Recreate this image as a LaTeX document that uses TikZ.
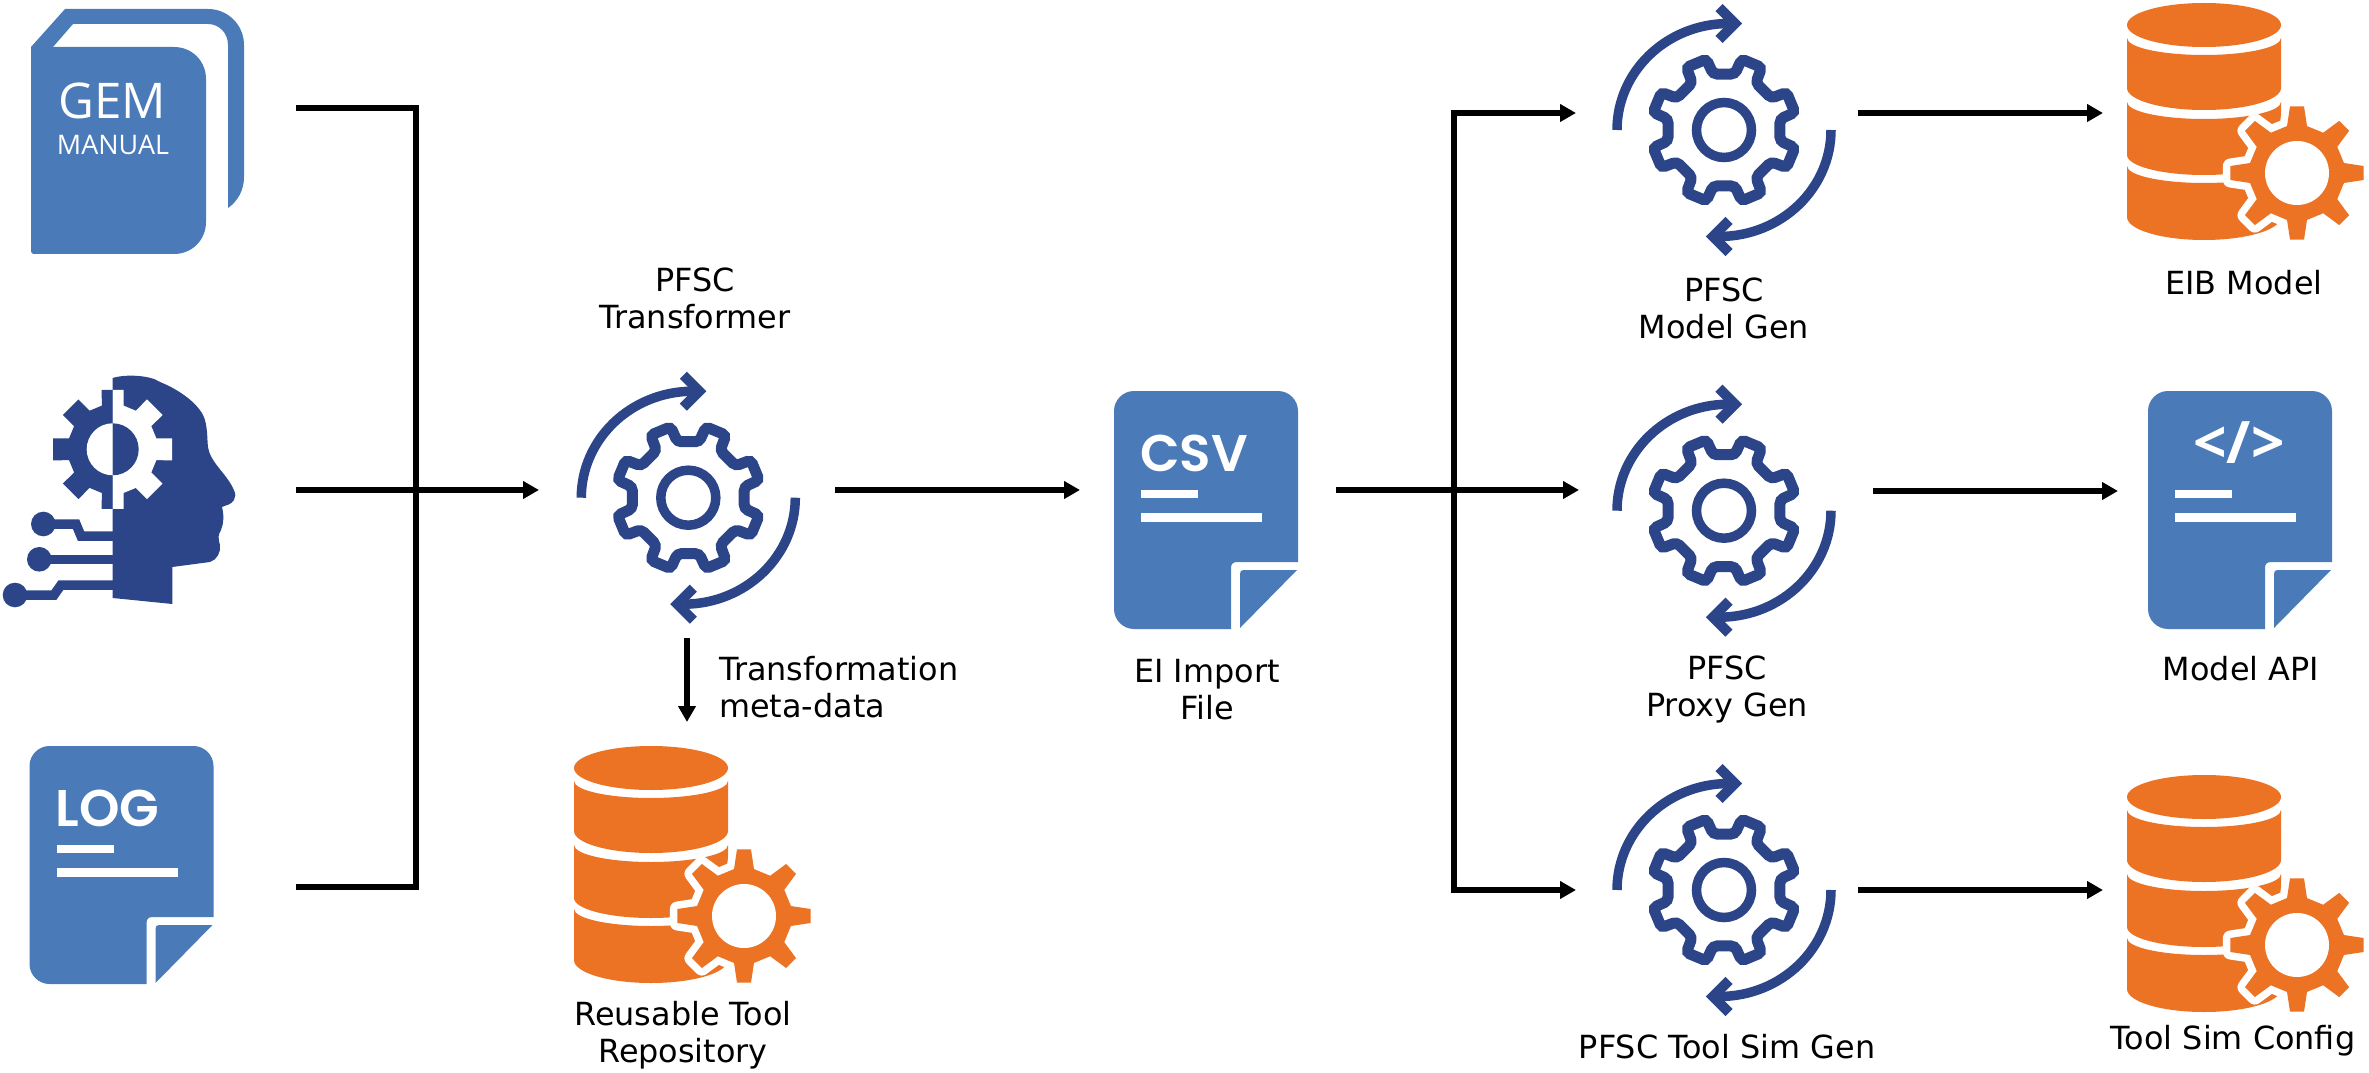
\documentclass[tikz,border=0pt]{standalone}
\usepackage{fontspec}
\setmainfont{DejaVu Sans}
\newfontfamily\bookfont{Open Sans}
\newfontfamily\docfont{Poppins}[BoldFont={Poppins SemiBold}]
\usetikzlibrary{arrows.meta,calc}
\definecolor{navy}{HTML}{2B4588}
\definecolor{docblue}{HTML}{4A7AB7}
\definecolor{dborange}{HTML}{EC7224}
\newcommand{\pxu}{0.03cm}
\tikzset{
  x=0.03cm,y=-0.03cm,
  link/.style={line width=5.5*\pxu,black},
  flow/.style={link,-{Triangle[length=16*\pxu,width=17*\pxu]}},
  anchorbox/.style 2 args={inner sep=0,outer sep=0,minimum width=#1*\pxu,minimum height=#2*\pxu},
  lab/.style={font=\fontsize{27.2}{31.6}\selectfont,align=center,inner sep=0,text=black},
  doctitle/.style={font=\fontsize{44}{44}\docfont\bfseries\selectfont,text=white,inner sep=0,anchor=base west},
}
% gear in a cycle of two arrows
\newcommand{\gearcycle}[2]{%
\begin{scope}[shift={(#1,#2)},draw=navy,line width=9.5*\pxu]
  \draw (0,0) circle[radius=27.5];
  \draw[line width=11*\pxu,rounded corners=4*\pxu]
    (0:55.9)
    \foreach \a in {22.5,67.5,...,337.5}{
      -- ({\a-11.5}:57) -- ({\a-8.5}:73) -- ({\a+8.5}:73) -- ({\a+11.5}:57)
    } -- cycle;
  \foreach \r in {0,180}{
    \begin{scope}[rotate=\r]
      \draw (-107,0) .. controls (-107,-58) and (-58,-106) .. (4,-106.5);
      \draw[line width=10*\pxu,miter limit=4] (-5,-122.5) -- (11,-106.5) -- (-5,-90.5);
    \end{scope}
  }
\end{scope}}
% database with cog
\newcommand{\dbband}[4]{%
  \fill[dborange] (-77,#1) .. controls (-77,{#1+.552*#2}) and (-42.5,{#1+#2}) .. (0,{#1+#2})
     .. controls (42.5,{#1+#2}) and (77,{#1+.552*#2}) .. (77,#1)
     -- (77,#3) .. controls (77,{#3+.552*#4}) and (42.5,{#3+#4}) .. (0,{#3+#4})
     .. controls (-42.5,{#3+#4}) and (-77,{#3+.552*#4}) .. (-77,#3) -- cycle;}
\newcommand{\cogpath}{%
  (-12:48) \foreach \a in {0,45,...,315}{
     -- ({\a-12}:48) -- ({\a-6}:67) -- ({\a+6}:67) -- ({\a+12}:48)
  } -- cycle}
\newcommand{\dbicon}[2]{%
\begin{scope}[shift={(#1,#2)}]
  \fill[dborange] (0,0) ellipse[x radius=77,y radius=22];
  \dbband{13}{17}{63}{22}
  \dbband{77}{17}{130}{20}
  \dbband{141}{17}{192}{23}
  \begin{scope}[shift={(93,148)}]
    \begin{scope}
      \clip (-75,-75) rectangle (0,75);
      \draw[white,line width=15*\pxu,fill=white,line join=round] \cogpath;
    \end{scope}
    \fill[dborange] \cogpath;
    \fill[white] (0,0) circle[radius=32];
  \end{scope}
\end{scope}}
% document with folded corner
\newcommand{\docicon}[2]{%
\begin{scope}[shift={(#1,#2)}]
  \fill[docblue] (20,0) -- (164,0) .. controls (175,0) and (184,9) .. (184,20)
    -- (184,171) -- (123,171) .. controls (119,171) and (117,173) .. (117,177)
    -- (117,238) -- (20,238) .. controls (9,238) and (0,229) .. (0,218)
    -- (0,20) .. controls (0,9) and (9,0) .. (20,0) -- cycle;
  \fill[docblue] (130,179) -- (183,179) -- (126,237) -- (126,183) .. controls (126,180) and (127,179) .. (130,179) -- cycle;
  \fill[white] (27,99) rectangle (84,107);
  \fill[white] (27,122) rectangle (148,131);
\end{scope}}
\begin{document}
\begin{tikzpicture}
\useasboundingbox (0,0) rectangle (2369,1073);

%---- book
\fill[docblue] (31,47) -- (65,9) -- (208,9) .. controls (228,9) and (244,25) .. (244,45)
  -- (244,177) .. controls (244,190) and (238,201) .. (228,208) -- (228,45)
  .. controls (228,33) and (219,24) .. (208,24) -- (73,24) -- (53,47) -- cycle;
\fill[docblue] (33,47) -- (174,47) .. controls (192,47) and (206,61) .. (206,79)
  -- (206,222) .. controls (206,240) and (192,254) .. (174,254)
  -- (33,254) -- (31,252) -- (31,47) -- cycle;
\node[font=\fontsize{42}{42}\bookfont\selectfont,text=white,inner sep=0,anchor=base] (gem) at (112.5,119) {GEM};
\node[font=\fontsize{23}{23}\bookfont\selectfont,text=white,inner sep=0,anchor=base] (manual) at (113,155) {MANUAL};

%---- head
\fill[navy] (112.7,378) .. controls (125,374) and (150,375) .. (160,382)
  .. controls (175,388) and (195,400) .. (203,415)
  .. controls (208,425) and (207,440) .. (208,447)
  .. controls (210,462) and (225,472) .. (233,488)
  .. controls (236,494) and (236,497) .. (234,500)
  .. controls (231,505) and (226,505) .. (222,507)
  .. controls (224,515) and (224,523) .. (221,530)
  .. controls (218,535) and (218,538) .. (220,545)
  .. controls (221,552) and (217,560) .. (210,562)
  -- (172.3,567) -- (172.3,604) -- (112.7,598) -- cycle;
\fill[navy] (43.3,524) circle[radius=12.3];
\fill[navy] (39.3,559.3) circle[radius=12.3];
\fill[navy] (15,595) circle[radius=12.3];
\draw[navy,line width=9.5*\pxu] (43.3,524) -- (76,524) -- (81,536) -- (113,536);
\draw[navy,line width=9.5*\pxu] (39.3,559.3) -- (113,559.3);
\draw[navy,line width=9.5*\pxu] (15,595) -- (54,595) -- (61,585) -- (113,585);
\begin{scope}[shift={(112.7,449.3)}]
  \newcommand{\headcog}{(-14:45) \foreach \a in {0,45,...,315}{
     -- ({\a-14}:45) -- ({\a-10.5}:60.5) -- ({\a+10.5}:60.5) -- ({\a+14}:45)
  } -- cycle}
  \begin{scope}
    \clip (0,-70) rectangle (70,70);
    \fill[white] \headcog;
    \fill[navy] (0,0) circle[radius=26];
  \end{scope}
  \begin{scope}
    \clip (-70,-70) rectangle (0,70);
    \fill[navy] \headcog;
    \fill[white] (0,0) circle[radius=26];
  \end{scope}
\end{scope}

%---- documents
\docicon{29.5}{746}
\node[doctitle] (logtxt) at (55.5,826) {LOG};
\docicon{1114}{391}
\node[doctitle] (csvtxt) at (1140,471) {CSV};
\docicon{2148}{391}
\node[font=\fontsize{50}{50}\bookfont\bfseries\selectfont,text=white,inner sep=0] (apitxt) at (2239,443) {</>};

%---- gears and databases
\gearcycle{688.3}{497.7}
\gearcycle{1724}{130}
\gearcycle{1724}{510.7}
\gearcycle{1724}{890}
\dbicon{651}{768}
\dbicon{2204}{25}
\dbicon{2204}{797}

%---- anchors for connectors (invisible boxes around the icons)
\node[anchorbox={266}{296}] (book) at (163,108) {};
\node[anchorbox={296}{296}] (head) at (148,490) {};
\node[anchorbox={266}{296}] (logdoc) at (163,887) {};
\node[anchorbox={296}{296}] (transformer) at (687,490) {};
\node[anchorbox={256}{256}] (repo) at (687,850) {};
\node[anchorbox={256}{256}] (csv) at (1208,490) {};
\node[anchorbox={282}{240}] (modelgen) at (1717,113) {};
\node[anchorbox={294}{240}] (proxygen) at (1726,490) {};
\node[anchorbox={282}{240}] (toolgen) at (1717,890) {};
\node[anchorbox={262}{200}] (eib) at (2234,113) {};
\node[anchorbox={232}{200}] (api) at (2234,491) {};
\node[anchorbox={262}{200}] (toolcfg) at (2234,890) {};
\coordinate (jnleft) at (416,490);
\coordinate (jnright) at (1454,490);
\coordinate (proxyout) at (1873,491);

%---- connectors
\draw[link] (book.east) -| (jnleft);
\draw[link] (logdoc.east) -| (jnleft);
\draw[flow] (head.east) -- (transformer.west);
\draw[flow] (transformer.east) -- (csv.west);
\draw[flow] (transformer.south) -- (repo.north);
\draw[link] (csv.east) -- (jnright);
\draw[flow] (jnright) -- (proxygen.west);
\draw[flow] (jnright) |- (modelgen.west);
\draw[flow] (jnright) |- (toolgen.west);
\draw[flow] (modelgen.east) -- (eib.west);
\draw[flow] (proxyout) -- (api.west);
\draw[flow] (toolgen.east) -- (toolcfg.west);

%---- labels
\node[lab] (l1) at (695,298) {PFSC\\Transformer};
\node[lab,align=left,anchor=west] (l2) at (719,687) {Transformation\\meta-data};
\node[lab] (l3) at (683,1035) {Reusable Tool\\Repository};
\node[lab] (l4) at (1207,690) {EI Import\\File};
\node[lab] (l5) at (1724,308) {PFSC\\Model Gen};
\node[lab] (l6) at (2244,283) {EIB Model};
\node[lab] (l7) at (1727,689) {PFSC\\Proxy Gen};
\node[lab] (l8) at (2241,669) {Model API};
\node[lab] (l9) at (1727,1047) {PFSC Tool Sim Gen};
\node[lab] (l10) at (2233,1041) {Tool Sim Config};
\end{tikzpicture}
\end{document}
